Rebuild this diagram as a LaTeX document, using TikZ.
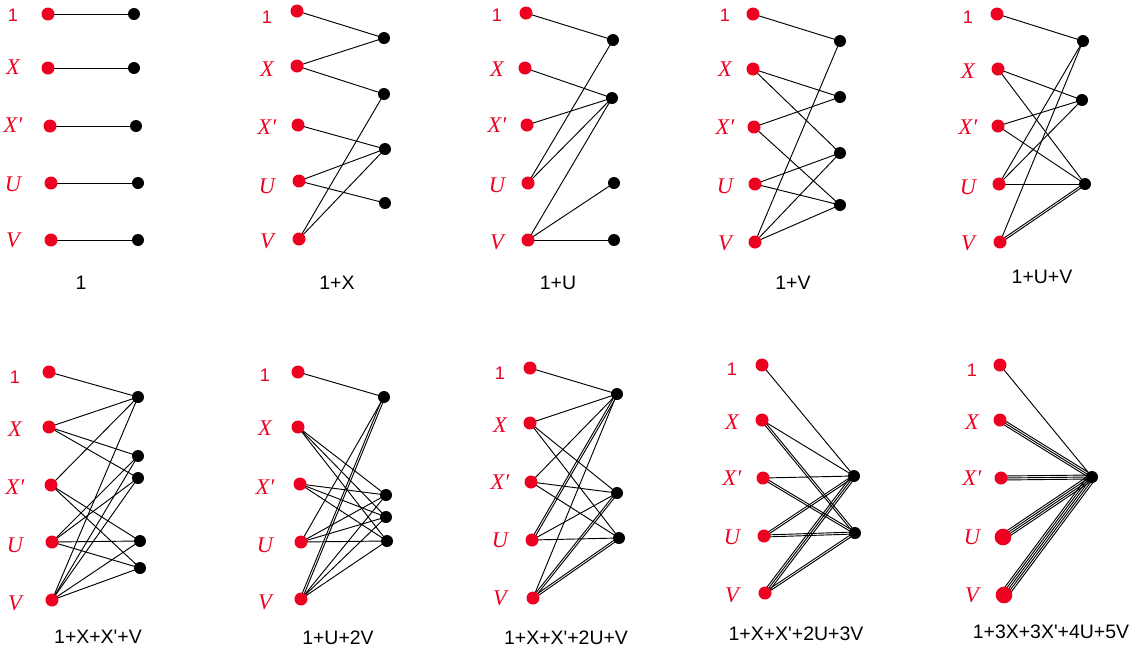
\documentclass[tikz,border=0pt]{standalone}
\usepackage{fontspec}
\setmainfont{Liberation Sans}
\newfontfamily\lblserif{Liberation Serif}
\usetikzlibrary{calc,backgrounds}
\definecolor{dotred}{RGB}{237,0,32}
\tikzset{
  rdot/.style={circle,fill=dotred,inner sep=0pt,minimum size=9.75pt},
  bigrdot/.style={circle,fill=dotred,inner sep=0pt,minimum size=12.5pt},
  bdot/.style={circle,fill=black,inner sep=0pt,minimum size=9pt},
  edge/.style={draw=black,line width=0.7pt},
  numlbl/.style={text=dotred,font=\fontsize{13.6}{15}\selectfont,inner sep=0pt},
  letlbl/.style={text=dotred,font=\lblserif\itshape\fontsize{16.8}{19}\selectfont,inner sep=0pt},
  lbl1/.style={numlbl},
  lbl2/.style={letlbl},
  lbl3/.style={letlbl},
  lbl4/.style={letlbl},
  lbl5/.style={letlbl},
  caption/.style={font=\fontsize{14.6}{17}\selectfont,inner sep=0pt},
}
% gap between parallel strands of a multiple edge (pt)
\newcommand\edgesep{1.5}
\newcommand\lbltxt[1]{\ifcase#1\or 1\or X\or X′\or U\or V\fi}
% #1 prefix, #2 label x, #3 list x/y/label-y/style
\newcommand\redside[3]{%
  \foreach \x/\y/\ly/\s [count=\i] in {#3} {
    \node[\s] (#1r\i) at (\x,\y) {};
    \node[lbl\i] (#1l\i) at (#2,\ly) {\lbltxt{\i}};
  }}
% #1 prefix, #2 list x/y
\newcommand\blackside[2]{%
  \foreach \x/\y [count=\i] in {#2} {
    \node[bdot] (#1b\i) at (\x,\y) {};
  }}
% edge of multiplicity #3 between nodes #1 and #2
\newcommand\medge[3]{%
  \foreach \k in {1,...,#3} {
    \pgfmathsetmacro\off{(\k-(#3+1)/2)*\edgesep}
    \draw[edge] ($(#1)!\off pt!90:(#2)$) -- ($(#2)!\off pt!-90:(#1)$);
  }}
\newcommand\edges[2]{%
  \foreach \a/\b/\n in {#2} {\medge{#1\a}{#1\b}{\n}}}

\begin{document}
\begin{tikzpicture}[x=0.75pt,y=-0.75pt]
\useasboundingbox (0,0) rectangle (1140,651);

% ---------- top row ----------
\redside{pa}{13}{48/14/15/rdot, 48/68/67/rdot, 50/126/125/rdot, 51/183/184/rdot, 51/240/240/rdot}
\blackside{pa}{134/14, 134/68, 136/126, 138/183, 138/240}
\node[caption] (capa) at (81,283) {1};

\redside{pb}{267}{297/11/17/rdot, 297/66/69/rdot, 298/125/127/rdot, 299/181/186/rdot, 299/239/241/rdot}
\blackside{pb}{384/38, 384/94, 385/149, 385/203}
\node[caption] (capb) at (337,283) {1+X};

\redside{pc}{497}{526/13/15/rdot, 525/68/69/rdot, 527/125/125/rdot, 528/183/185/rdot, 528/240/242/rdot}
\blackside{pc}{613/40, 612/98, 614/183, 614/240}
\node[caption] (capc) at (558,283) {1+U};

\redside{pd}{725}{753/14/15/rdot, 753/69/69/rdot, 754/127/127/rdot, 755/184/186/rdot, 755/242/243/rdot}
\blackside{pd}{840/41, 840/97, 840/153, 840/205}
\node[caption] (capd) at (793,283) {1+V};

\redside{pe}{968}{997/14/17/rdot, 998/69/71/rdot, 998/126/127/rdot, 999/184/187/rdot, 1000/242/243/rdot}
\blackside{pe}{1083/41, 1082/100, 1085/184}
\node[caption] (cape) at (1042,277) {1+U+V};

% ---------- bottom row ----------
\redside{pf}{15}{49/372/377/rdot, 49/427/429/rdot, 51/485/487/rdot, 52/542/545/rdot, 52/600/603/rdot}
\blackside{pf}{138/397, 138/456, 138/478, 140/541, 140/568}
\node[caption] (capf) at (98,637) {1+X+X\textquotesingle+V};

\redside{pg}{265}{298/372/375/rdot, 298/427/428/rdot, 300/484/487/rdot, 301/542/545/rdot, 301/599/602/rdot}
\blackside{pg}{384/397, 386/495, 386/517, 387/541}
\node[caption] (capg) at (338,638) {1+U+2V};

\redside{ph}{500}{530/368/373/rdot, 530/423/425/rdot, 531/482/482/rdot, 532/540/540/rdot, 533/598/598/rdot}
\blackside{ph}{617/394, 617/493, 619/538}
\node[caption] (caph) at (566,638) {1+X+X\textquotesingle+2U+V};

\redside{pi}{732}{762/365/369/rdot, 762/420/422/rdot, 763/478/478/rdot, 764/536/537/rdot, 765/593/595/rdot}
\blackside{pi}{854/476, 855/533}
\node[caption] (capi) at (796,634) {1+X+X\textquotesingle+2U+3V};

\redside{pj}{972}{1000/365/370/rdot, 1000/420/422/rdot, 1001/478/478/rdot, 1003/537/537/bigrdot, 1004/595/595/bigrdot}
\blackside{pj}{1092/477}
\node[caption] (capj) at (1051,632) {1+3X+3X\textquotesingle+4U+5V};

% ---------- connectors ----------
\begin{pgfonlayer}{background}
\edges{pa}{r1/b1/1, r2/b2/1, r3/b3/1, r4/b4/1, r5/b5/1}
\edges{pb}{r1/b1/1, r2/b1/1, r2/b2/1, r3/b3/1, r4/b3/1, r4/b4/1, r5/b2/1, r5/b3/1}
\edges{pc}{r1/b1/1, r2/b2/1, r3/b2/1, r4/b1/1, r4/b2/1, r5/b2/1, r5/b3/1, r5/b4/1}
\edges{pd}{r1/b1/1, r2/b2/1, r2/b3/1, r3/b2/1, r3/b4/1, r4/b3/1, r4/b4/1, r5/b1/1, r5/b3/1, r5/b4/1}
\edges{pe}{r1/b1/1, r2/b2/1, r2/b3/1, r3/b2/1, r3/b3/1, r4/b1/1, r4/b2/1, r4/b3/1, r5/b1/1, r5/b3/2}
\edges{pf}{r1/b1/1, r2/b1/1, r2/b2/1, r2/b3/1, r3/b1/1, r3/b4/1, r3/b5/1,
  r4/b2/1, r4/b3/1, r4/b4/1, r4/b5/1, r5/b1/1, r5/b2/1, r5/b3/1, r5/b4/1, r5/b5/1}
\edges{pg}{r1/b1/1, r4/b1/1, r5/b1/2,
  r2/b2/1, r2/b3/1, r2/b4/1, r3/b2/1, r3/b3/1, r3/b4/1,
  r4/b2/1, r4/b3/1, r4/b4/1, r5/b2/1, r5/b3/1, r5/b4/1}
\edges{ph}{r1/b1/1, r2/b1/1, r3/b1/1, r4/b1/2, r5/b1/1,
  r2/b2/1, r2/b3/1, r3/b2/1, r3/b3/1, r4/b2/1, r4/b3/1, r5/b2/2, r5/b3/2}
\edges{pi}{r1/b1/1, r2/b1/1, r2/b2/2, r3/b1/1, r3/b2/2, r4/b1/2, r4/b2/2, r5/b1/3, r5/b2/2}
\edges{pj}{r1/b1/1, r2/b1/3, r3/b1/3, r4/b1/4, r5/b1/5}
\end{pgfonlayer}
\end{tikzpicture}
\end{document}
